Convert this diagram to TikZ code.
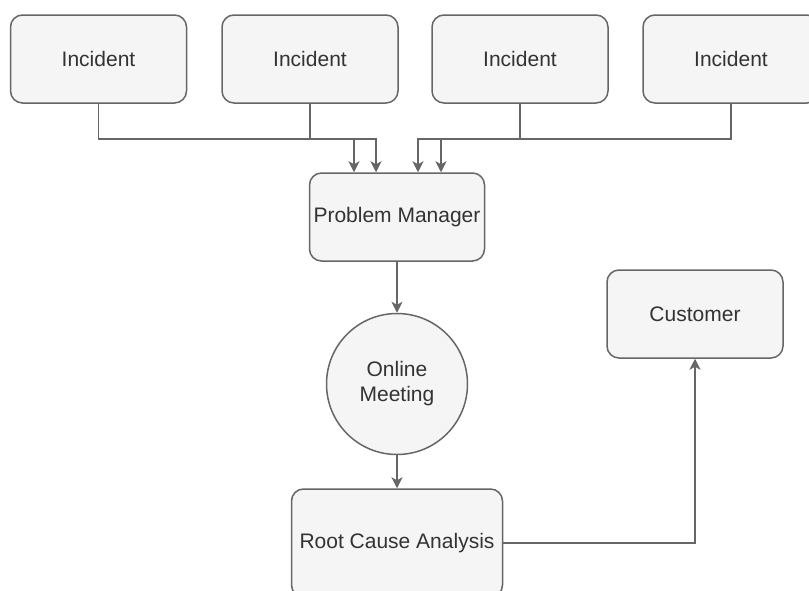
\documentclass[tikz,border=0pt]{standalone}
\usepackage{fontspec}
\setmainfont{Liberation Sans}
\usetikzlibrary{arrows.meta,positioning,calc}
\definecolor{boxfill}{HTML}{F5F5F5}
\definecolor{boxline}{HTML}{666666}
\definecolor{txt}{HTML}{333333}
\tikzset{
  box/.style={draw=boxline, fill=boxfill, line width=1.5pt, rounded corners=12pt,
    minimum width=176pt, minimum height=88pt, inner sep=0pt, text=txt,
    font=\fontsize{21}{25}\selectfont, align=center},
  circ/.style={draw=boxline, fill=boxfill, line width=1.5pt, circle,
    minimum size=141pt, inner sep=0pt, text=txt,
    font=\fontsize{21}{25}\selectfont, align=center},
  arr/.style={draw=boxline, line width=1.5pt, -{Stealth[length=11pt,width=11pt,inset=3pt]}},
}
\begin{document}
\begin{tikzpicture}[x=1pt,y=-1pt]
\useasboundingbox (0,0) rectangle (809,590);
\clip (0,0) rectangle (809,590);
\node[box] (inc1) at (98.5,59) {Incident};
\node[box] (inc2) at (310,59) {Incident};
\node[box] (inc3) at (520,59) {Incident};
\node[box] (inc4) at (731,59) {Incident};
\node[box, minimum width=175pt] (pm) at (397,217) {Problem Manager};
\node[circ] (om) at (397,384) {Online\\Meeting};
\node[box, minimum width=211pt, minimum height=108pt] (rca) at (397,543) {Root Cause Analysis};
\node[box] (cust) at (695,314) {Customer};
\draw[arr] (inc1.south) -- ++(0,35) -| ([xshift=-43pt]pm.north);
\draw[arr] (inc2.south) -- ++(0,35) -| ([xshift=-21pt]pm.north);
\draw[arr] (inc3.south) -- ++(0,35) -| ([xshift=44pt]pm.north);
\draw[arr] (inc4.south) -- ++(0,35) -| ([xshift=21pt]pm.north);
\draw[arr] (pm.south) -- (om.north);
\draw[arr] (om.south) -- (rca.north);
\draw[arr] (rca.east) -| (cust.south);
\end{tikzpicture}
\end{document}
